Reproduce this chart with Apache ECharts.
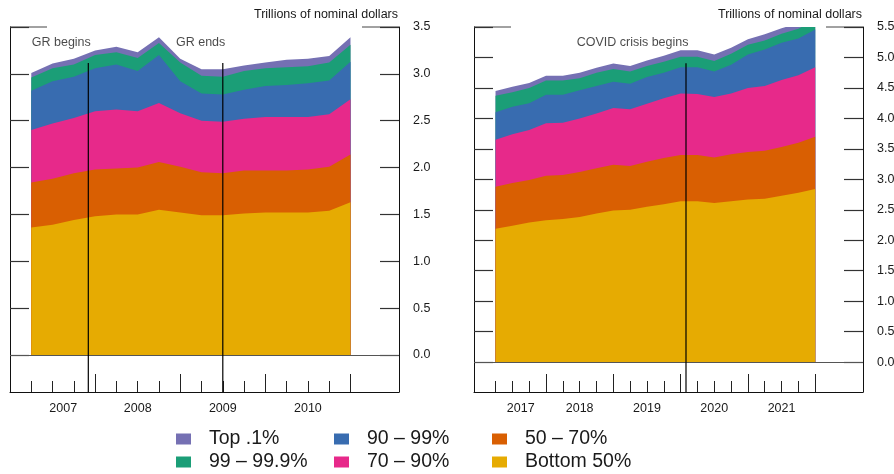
<!DOCTYPE html>
<html>
<head>
	<meta charset="utf-8">
	<title>Wealth by percentile group</title>
	<script src="https://cdn.jsdelivr.net/npm/echarts@6/dist/echarts.min.js"></script>
	<style>
		html, body { margin: 0; padding: 0; background: #fff; }
		#chart { width: 894px; height: 474px; }
	</style>
</head>
<body>
	<div id="chart"></div>
	<script>
		// quarters shown in each panel (plotted at quarter end)
		var grQuarters = ['2007Q1', '2007Q2', '2007Q3', '2007Q4', '2008Q1', '2008Q2', '2008Q3', '2008Q4',
			'2009Q1', '2009Q2', '2009Q3', '2009Q4', '2010Q1', '2010Q2', '2010Q3', '2010Q4'];
		var covidQuarters = ['2017Q1', '2017Q2', '2017Q3', '2017Q4', '2018Q1', '2018Q2', '2018Q3', '2018Q4',
			'2019Q1', '2019Q2', '2019Q3', '2019Q4', '2020Q1', '2020Q2', '2020Q3', '2020Q4',
			'2021Q1', '2021Q2', '2021Q3', '2021Q4'];

		var groupNames = ['Bottom 50%', '50 – 70%', '70 – 90%', '90 – 99%', '99 – 99.9%', 'Top .1%'];
		var groupColors = ['#e6ab02', '#d95f02', '#e7298a', '#386cb0', '#1b9e77', '#7570b3'];

		var yearLabelsGR = ['2007', '2008', '2009', '2010'];
		var yearLabelsCovid = ['2017', '2018', '2019', '2020', '2021'];
		var yTicksGR = [0, 0.5, 1.0, 1.5, 2.0, 2.5, 3.0, 3.5];
		var yTicksCovid = [0, 0.5, 1.0, 1.5, 2.0, 2.5, 3.0, 3.5, 4.0, 4.5, 5.0, 5.5];

		// Great Recession panel, trillions of nominal dollars
		var grBottom50 = [1.36, 1.39, 1.44, 1.48, 1.50, 1.50, 1.55, 1.52, 1.49, 1.49, 1.51, 1.52, 1.52, 1.52, 1.54, 1.63];
		var gr50to70 = [0.48, 0.49, 0.50, 0.50, 0.49, 0.50, 0.51, 0.49, 0.46, 0.45, 0.46, 0.45, 0.45, 0.46, 0.47, 0.51];
		var gr70to90 = [0.56, 0.59, 0.59, 0.62, 0.63, 0.60, 0.63, 0.57, 0.55, 0.55, 0.55, 0.57, 0.57, 0.56, 0.56, 0.59];
		var gr90to99 = [0.42, 0.45, 0.44, 0.46, 0.48, 0.43, 0.51, 0.34, 0.29, 0.29, 0.31, 0.33, 0.34, 0.36, 0.36, 0.40];
		var gr99to999 = [0.14, 0.14, 0.13, 0.14, 0.13, 0.14, 0.13, 0.20, 0.19, 0.19, 0.20, 0.19, 0.19, 0.18, 0.19, 0.18];
		var grTop01 = [0.05, 0.05, 0.06, 0.05, 0.06, 0.06, 0.06, 0.04, 0.07, 0.08, 0.06, 0.06, 0.08, 0.08, 0.07, 0.08];

		// COVID panel
		var cvBottom50 = [2.19, 2.24, 2.29, 2.33, 2.35, 2.38, 2.44, 2.49, 2.50, 2.55, 2.59, 2.64, 2.64, 2.61, 2.64, 2.67, 2.68, 2.73, 2.78, 2.84];
		var cv50to70 = [0.69, 0.70, 0.70, 0.73, 0.72, 0.74, 0.74, 0.75, 0.72, 0.74, 0.76, 0.76, 0.76, 0.75, 0.77, 0.78, 0.79, 0.80, 0.82, 0.86];
		var cv70to90 = [0.77, 0.80, 0.82, 0.86, 0.86, 0.88, 0.90, 0.93, 0.93, 0.95, 0.98, 1.01, 1.00, 0.99, 1.00, 1.05, 1.06, 1.10, 1.11, 1.14];
		var cv90to99 = [0.45, 0.45, 0.44, 0.47, 0.46, 0.46, 0.45, 0.43, 0.42, 0.44, 0.42, 0.43, 0.44, 0.42, 0.47, 0.55, 0.60, 0.61, 0.60, 0.62];
		var cv99to999 = [0.27, 0.24, 0.25, 0.23, 0.23, 0.20, 0.22, 0.21, 0.20, 0.18, 0.18, 0.17, 0.17, 0.17, 0.18, 0.16, 0.15, 0.15, 0.16, 0.16];
		var cvTop01 = [0.08, 0.09, 0.08, 0.08, 0.08, 0.09, 0.08, 0.09, 0.09, 0.09, 0.10, 0.11, 0.11, 0.11, 0.10, 0.09, 0.10, 0.09, 0.09, 0.09];

		// event lines (decimal years)
		var grEventNames = ['GR begins', 'GR ends'];
		var grEventDates = [2007.92, 2009.5];
		var cvEventNames = ['COVID crisis begins'];
		var cvEventDates = [2020.08];

		var FONT = "'Liberation Sans', Arial, Helvetica, sans-serif";
		var INK = '#1a1a1a';

		// '2007Q3' -> 2007.75 (end of quarter)
		function quarterPos(q) {
			return parseInt(q.slice(0, 4), 10) + parseInt(q.slice(5), 10) / 4;
		}

		// stacked areas: running totals, drawn top group first so lower groups paint over
		function panelSeries(quarters, groups, xIdx, yIdx) {
			var xs = quarters.map(quarterPos);
			var running = xs.map(function() { return 0; });
			var out = [];
			groups.forEach(function(vals, i) {
				running = running.map(function(r, j) { return r + vals[j]; });
				var totals = running.slice();
				var s = {
					name: groupNames[i],
					type: 'line',
					xAxisIndex: xIdx,
					yAxisIndex: yIdx,
					symbol: 'none',
					silent: true,
					lineStyle: { width: 0 },
					itemStyle: { color: groupColors[i] },
					areaStyle: { color: groupColors[i], opacity: 1, origin: 0 },
					z: 2,
					data: totals.map(function(v, j) { return [xs[j], +v.toFixed(3)]; })
				};
				if (i === 0) {
					// zero line
					s.markLine = {
						silent: true,
						symbol: 'none',
						label: { show: false },
						lineStyle: { color: '#555', width: 1, type: 'solid' },
						data: [{ yAxis: 0 }]
					};
				}
				out.unshift(s);
			});
			return out;
		}

		function eventSeries(names, dates, xIdx, yIdx, topVal, bottomVal) {
			var out = [];
			dates.forEach(function(d, i) {
				out.push({
					type: 'line',
					xAxisIndex: xIdx,
					yAxisIndex: yIdx,
					symbol: 'none',
					silent: true,
					z: 5,
					lineStyle: { color: '#000', width: 1.2 },
					data: [[d, topVal], [d, bottomVal]]
				});
				out.push({
					type: 'scatter',
					xAxisIndex: xIdx,
					yAxisIndex: yIdx,
					symbolSize: 1,
					silent: true,
					z: 5,
					itemStyle: { color: 'rgba(0,0,0,0)' },
					label: {
						show: true,
						position: [3, -20],
						align: 'right',
						verticalAlign: 'middle',
						formatter: '{b}',
						color: INK,
						fontSize: 12.5,
						fontFamily: FONT
					},
					data: [{ name: names[i], value: [d, topVal] }]
				});
			});
			return out;
		}

		// quarter ticks (short), year boundaries (long), label positions
		function shortTicks(quarters) {
			return quarters.map(quarterPos).filter(function(v) { return v % 1 !== 0; });
		}
		function longTicks(quarters) {
			return quarters.map(quarterPos).filter(function(v) { return v % 1 === 0; });
		}
		function labelPos(quarters, years) {
			var first = quarterPos(quarters[0]);
			return years.map(function(y) {
				var yr = parseInt(y, 10);
				return (Math.max(yr, first) + yr + 1) / 2;
			});
		}

		function xAxes(gridIndex, min, max, quarters, years) {
			return [{
				type: 'value', gridIndex: gridIndex, position: 'bottom', min: min, max: max,
				splitLine: { show: false },
				axisLine: { show: true, onZero: false, lineStyle: { color: '#111', width: 1 } },
				axisTick: { show: true, inside: true, length: 11, customValues: shortTicks(quarters), lineStyle: { color: '#222', width: 1 } },
				axisLabel: {
					show: true, margin: 10, customValues: labelPos(quarters, years),
					formatter: function(v) { return String(Math.floor(v)); },
					color: INK, fontSize: 12.5, fontFamily: FONT
				}
			}, {
				type: 'value', gridIndex: gridIndex, position: 'bottom', min: min, max: max,
				splitLine: { show: false },
				axisLine: { show: false, onZero: false },
				axisTick: { show: true, inside: true, length: 18, customValues: longTicks(quarters), lineStyle: { color: '#222', width: 1 } },
				axisLabel: { show: false }
			}];
		}

		function yAxes(gridIndex, min, max, ticks) {
			var common = {
				type: 'value', gridIndex: gridIndex, min: min, max: max,
				splitLine: { show: false },
				axisLine: { show: true, onZero: false, lineStyle: { color: '#111', width: 1 } },
				axisTick: { show: true, inside: true, length: 19, customValues: ticks, lineStyle: { color: '#333', width: 1.2 } }
			};
			var left = echarts.util.merge({ position: 'left', axisLabel: { show: false } }, common);
			var right = echarts.util.merge({
				position: 'right',
				axisLabel: {
					show: true, margin: 14, customValues: ticks,
					formatter: function(v) { return v.toFixed(1); },
					color: INK, fontSize: 12.5, fontFamily: FONT
				}
			}, common);
			return [left, right];
		}

		function legendColumn(left, names) {
			return {
				data: names,
				orient: 'vertical',
				left: left,
				top: 429,
				padding: 0,
				itemWidth: 15,
				itemHeight: 11,
				itemGap: 3,
				icon: 'rect',
				selectedMode: false,
				textStyle: { fontSize: 19.5, lineHeight: 20, color: INK, fontFamily: FONT, padding: [0, 0, 0, 13] }
			};
		}

		var chart = echarts.init(document.getElementById('chart'), null, { renderer: 'canvas' });

		var series = []
			.concat(panelSeries(grQuarters, [grBottom50, gr50to70, gr70to90, gr90to99, gr99to999, grTop01], 0, 1))
			.concat(eventSeries(grEventNames, grEventDates, 0, 1, 3.116, -0.395))
			.concat(panelSeries(covidQuarters, [cvBottom50, cv50to70, cv70to90, cv90to99, cv99to999, cvTop01], 2, 3))
			.concat(eventSeries(cvEventNames, cvEventDates, 2, 3, 4.905, -0.49));

		var option = {
			animation: false,
			textStyle: { fontFamily: FONT },
			grid: [
				{ left: 10, right: 495, top: 27, bottom: 82, outerBoundsMode: 'none' },
				{ left: 474, right: 31, top: 27, bottom: 82, outerBoundsMode: 'none' }
			],
			xAxis: [].concat(xAxes(0, 2007.0, 2011.57, grQuarters, yearLabelsGR), xAxes(1, 2016.93, 2022.71, covidQuarters, yearLabelsCovid)),
			yAxis: [].concat(yAxes(0, -0.395, 3.5, yTicksGR), yAxes(1, -0.49, 5.5, yTicksCovid)),
			legend: [
				legendColumn(176, ['Top .1%', '99 – 99.9%']),
				legendColumn(334, ['90 – 99%', '70 – 90%']),
				legendColumn(492, ['50 – 70%', 'Bottom 50%'])
			],
			graphic: [
				// partial top border of each frame
				{ type: 'line', shape: { x1: 10, y1: 27, x2: 47, y2: 27 }, style: { stroke: '#444', lineWidth: 1 } },
				{ type: 'line', shape: { x1: 362, y1: 27, x2: 399, y2: 27 }, style: { stroke: '#444', lineWidth: 1 } },
				{ type: 'line', shape: { x1: 474, y1: 27, x2: 511, y2: 27 }, style: { stroke: '#444', lineWidth: 1 } },
				{ type: 'line', shape: { x1: 826, y1: 27, x2: 863, y2: 27 }, style: { stroke: '#444', lineWidth: 1 } },
				{ type: 'text', right: 894 - 398, top: 8, style: { text: 'Trillions of nominal dollars', fill: INK, font: '12.5px ' + FONT } },
				{ type: 'text', right: 894 - 862, top: 8, style: { text: 'Trillions of nominal dollars', fill: INK, font: '12.5px ' + FONT } }
			],
			series: series
		};

		chart.setOption(option);
	</script>
</body>
</html>
